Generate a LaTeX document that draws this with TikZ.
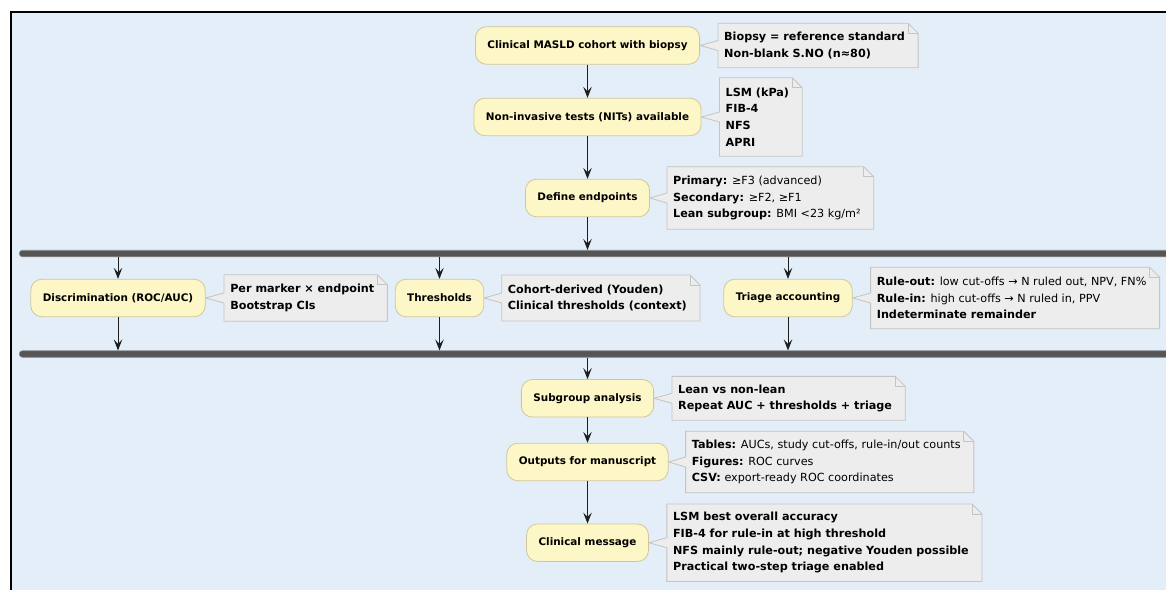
\documentclass[tikz,border=0pt]{standalone}
\usepackage{fontspec}
\setmainfont{DejaVu Sans}
\usetikzlibrary{arrows.meta,positioning,calc}
\definecolor{bgblue}{HTML}{E3EEF9}
\definecolor{actfill}{HTML}{FDF6C6}
\definecolor{actline}{HTML}{CFC79A}
\definecolor{notefill}{HTML}{EDEDED}
\definecolor{noteline}{HTML}{C4C4C4}
\definecolor{barcol}{HTML}{555555}
\definecolor{baredge}{HTML}{8A8A8A}
\definecolor{arrcol}{HTML}{1E1E1E}
\pgfdeclarelayer{bglayer}
\pgfdeclarelayer{midlayer}
\pgfsetlayers{bglayer,midlayer,main}
\newcommand\notepath[2]{%
  \begin{pgfonlayer}{midlayer}
  \draw[noteshape] (#1.north west) -- ([xshift=-3pt]#1.north east)
    -- ([xshift=7pt,yshift=-10pt]#1.north east) -- ([xshift=7pt]#1.south east)
    -- (#1.south west) -- ($(#1.west |- #2.east)+(0,5)$) -- (#2.east)
    -- ($(#1.west |- #2.east)+(0,-5)$) -- cycle;
  \draw[noteshape,fill=none] ([xshift=-3pt]#1.north east) -- ([xshift=-3pt,yshift=-10pt]#1.north east)
    -- ([xshift=7pt,yshift=-10pt]#1.north east);
  \end{pgfonlayer}}
\begin{document}
\begin{tikzpicture}[x=1pt,y=-1pt,
  act/.style={draw=actline, fill=actfill, line width=0.8pt, rounded corners=11pt,
    minimum height=37.5pt, inner xsep=12pt, font=\fontsize{10.4}{12.5}\selectfont\bfseries},
  note/.style={inner xsep=6pt, inner ysep=2pt, align=left, anchor=west,
    font=\fontsize{11.2}{16.7}\selectfont},
  noteshape/.style={draw=noteline, fill=notefill, line width=0.8pt},
  arr/.style={draw=arrcol, line width=0.9pt, -{Stealth[length=11pt,width=8.5pt,inset=4.5pt]}},
  barst/.style={fill=barcol, draw=baredge, line width=0.6pt, rounded corners=3pt,
    minimum height=6.5pt, inner sep=0pt, anchor=west, minimum width=1170pt}]
\useasboundingbox (0,0) rectangle (1166,589);
\begin{pgfonlayer}{bglayer}
  \fill[white] (0,0) rectangle (1166,589);
  \fill[bgblue] (10.5,11.5) rectangle (1180,600);
  \draw[black, line width=2pt] (10.5,600) -- (10.5,11.5) -- (1180,11.5);
\end{pgfonlayer}

% main spine
\node[act] (n1) at (587.5,45.5) {Clinical MASLD cohort with biopsy};
\node[act] (n2) at (587.5,117) {Non-invasive tests (NITs) available};
\node[act] (n3) at (587.5,198) {Define endpoints};
\node[barst] (b1) at (19,253.5) {};
\node[act] (disc) at (118,298) {Discrimination (ROC/AUC)};
\node[act] (thr) at (439.5,298) {Thresholds};
\node[act] (tri) at (788,298) {Triage accounting};
\node[barst] (b2) at (19,354) {};
\node[act] (sub) at (587.5,398.3) {Subgroup analysis};
\node[act] (out) at (587.5,462) {Outputs for manuscript};
\node[act] (clin) at (587.5,542.7) {Clinical message};

% notes
\node[note, minimum height=44pt, right=18pt of n1] (t1) {\bfseries Biopsy = reference standard\\\bfseries Non-blank S.NO (n≈80)};
\node[note, minimum height=78pt, right=18pt of n2] (t2) {\bfseries LSM (kPa)\\\bfseries FIB-4\\\bfseries NFS\\\bfseries APRI};
\node[note, minimum height=62pt, right=17pt of n3] (t3) {\textbf{Primary:} ≥F3 (advanced)\\\textbf{Secondary:} ≥F2, ≥F1\\\textbf{Lean subgroup:} BMI <23 kg/m²};
\node[note, minimum height=46pt, right=18.5pt of disc] (t4) {\bfseries Per marker × endpoint\\\bfseries Bootstrap CIs};
\node[note, minimum height=45.5pt, right=17.5pt of thr] (t5) {\bfseries Cohort-derived (Youden)\\\bfseries Clinical thresholds (context)};
\node[note, minimum height=61pt, right=18pt of tri] (t6) {\textbf{Rule-out:} low cut-offs → N ruled out, NPV, FN\%\\\textbf{Rule-in:} high cut-offs → N ruled in, PPV\\\textbf{Indeterminate remainder}};
\node[note, minimum height=43.5pt, right=18pt of sub] (t7) {\bfseries Lean vs non-lean\\\bfseries Repeat AUC + thresholds + triage};
\node[note, minimum height=61pt, right=17pt of out] (t8) {\textbf{Tables:} AUCs, study cut-offs, rule-in/out counts\\\textbf{Figures:} ROC curves\\\textbf{CSV:} export-ready ROC coordinates};
\node[note, minimum height=77pt, right=18pt of clin] (t9) {\bfseries LSM best overall accuracy\\\bfseries FIB-4 for rule-in at high threshold\\\bfseries NFS mainly rule-out; negative Youden possible\\\bfseries Practical two-step triage enabled};

\notepath{t1}{n1}
\notepath{t2}{n2}
\notepath{t3}{n3}
\notepath{t4}{disc}
\notepath{t5}{thr}
\notepath{t6}{tri}
\notepath{t7}{sub}
\notepath{t8}{out}
\notepath{t9}{clin}

% connectors
\draw[arr] (n1) -- (n2);
\draw[arr] (n2) -- (n3);
\draw[arr] (n3) -- (n3 |- b1.north);
\draw[arr] (disc |- b1.south) -- (disc);
\draw[arr] (thr |- b1.south) -- (thr);
\draw[arr] (tri |- b1.south) -- (tri);
\draw[arr] (disc) -- (disc |- b2.north);
\draw[arr] (thr) -- (thr |- b2.north);
\draw[arr] (tri) -- (tri |- b2.north);
\draw[arr] (sub |- b2.south) -- (sub);
\draw[arr] (sub) -- (out);
\draw[arr] (out) -- (clin);
\end{tikzpicture}
\end{document}
